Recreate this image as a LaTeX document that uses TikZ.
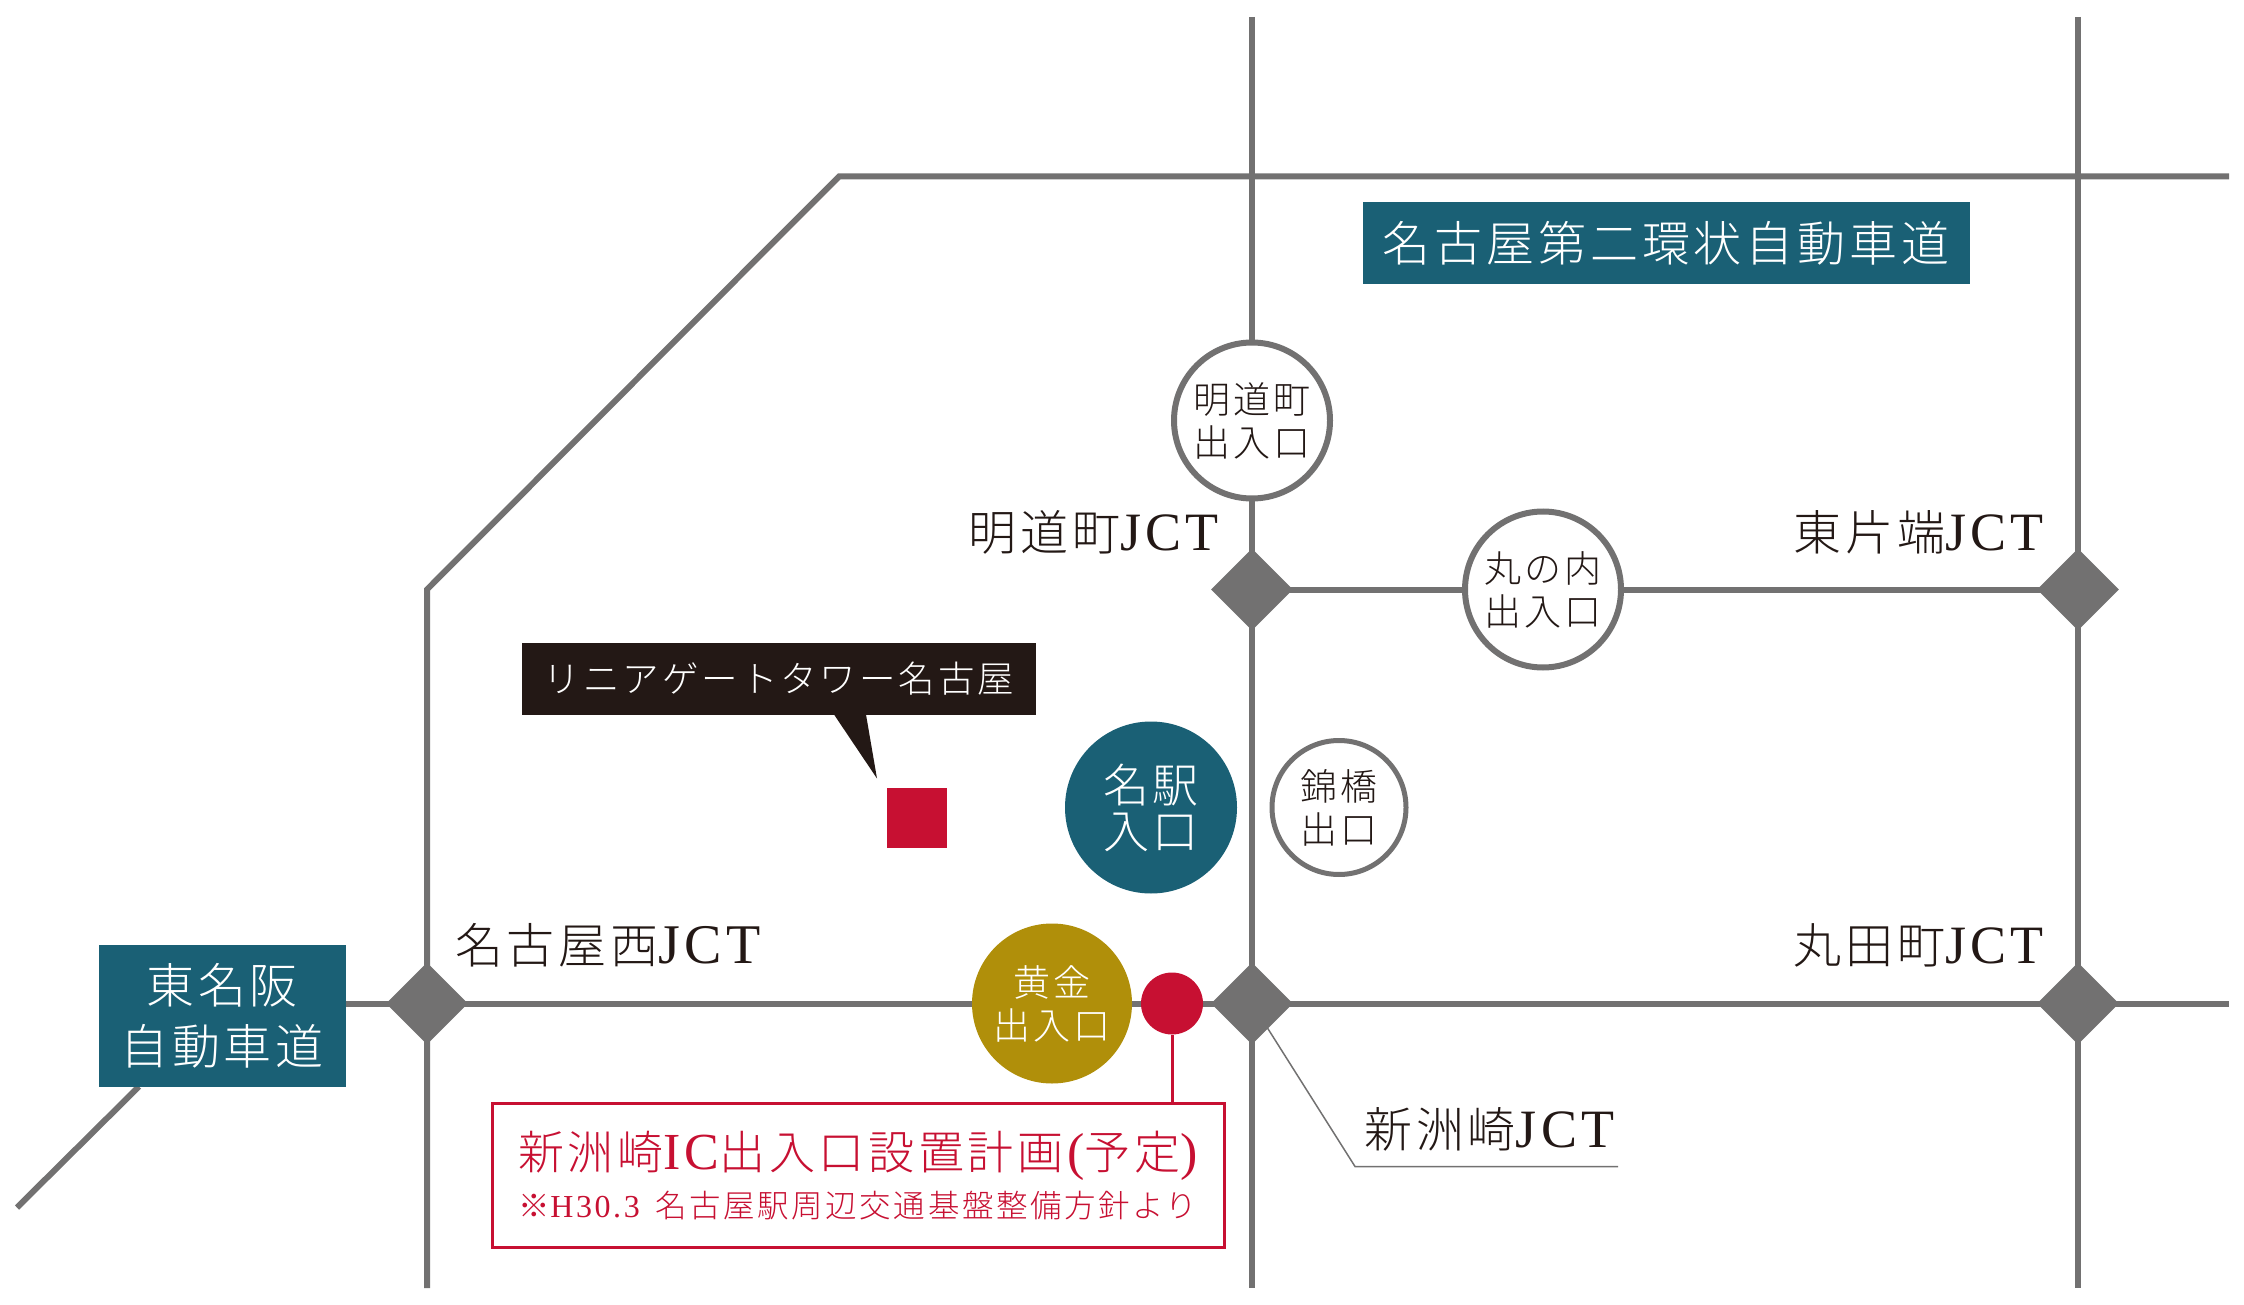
\documentclass[tikz,border=0pt]{standalone}
\usepackage{fontspec}
\setmainfont{Liberation Serif}
\newfontfamily\jpfont[LetterSpace=8]{Noto Sans CJK JP Light}
\newfontfamily\latfont[LetterSpace=8]{Liberation Serif}
\usetikzlibrary{shapes.geometric,backgrounds}

\definecolor{roadgray}{HTML}{727171}
\definecolor{darkteal}{HTML}{1A6075}
\definecolor{signred}{HTML}{C71032}
\definecolor{signgold}{HTML}{B08F0A}
\definecolor{inkblack}{HTML}{231815}

\newcommand{\jpsize}[1]{\jpfont\fontsize{#1}{#1}\selectfont}
\newcommand{\lat}[2]{{\latfont\fontsize{#1}{#1}\selectfont #2}}

\tikzset{
	jctmark/.style={diamond,fill=roadgray,minimum size=82pt,inner sep=0pt},
	road/.style={draw=roadgray,line width=6pt},
	gate/.style={circle,draw=roadgray,fill=white,line width=6pt,inner sep=0pt,minimum size=156pt,text=inkblack,align=center,font=\jpsize{37}},
	roadsign/.style={rectangle,fill=darkteal,text=white,inner sep=0pt,align=center,font=\jpsize{48}},
	jctname/.style={inner sep=0pt,text=inkblack,font=\jpsize{48}},
}

\begin{document}
\begin{tikzpicture}[x=1pt,y=-1pt]
	    
	    \useasboundingbox (0,0) rectangle (2244,1305);
	    
	    \node [jctmark] (meidoJ) at (1252,589.5) {};
	    \node [jctmark] (katahaJ) at (2078,589.5) {};
	    \node [jctmark] (nishiJ) at (427,1003.5) {};
	    \node [jctmark] (shinsuJ) at (1252,1003.5) {};
	    \node [jctmark] (marutaJ) at (2078,1003.5) {};
	    
	    \node [gate] (meidoGate) at (1252,420.5) {明道町\\[6pt]出入口};
	    \node [gate] (marunouchiGate) at (1543,589.5) {丸の内\\[6pt]出入口};
	    \node [gate,minimum size=134pt,line width=5pt] (nishikiGate) at (1339,807.5) {錦橋\\[6pt]出口};
	    \node [gate,draw=none,fill=darkteal,text=white,minimum size=172pt,font=\jpsize{46}] (meiekiGate) at (1151,807.5) {名駅\\[0pt]入口};
	    \node [gate,draw=none,fill=signgold,text=white,minimum size=160pt] (ogonGate) at (1052,1003.5) {黄金\\[6pt]出入口};
	    \node [circle,fill=signred,minimum size=62pt,inner sep=0pt] (shinsuDot) at (1172,1003.5) {};
	    
	    \node [roadsign,minimum width=247pt,minimum height=142pt] (tomeiSign) at (222,1015.5) {東名阪\\[13pt]自動車道};
	    \node [roadsign,minimum width=607pt,minimum height=82pt] (dainiSign) at (1666,243.5) {名古屋第二環状自動車道};
	    
	    \node [jctname,anchor=east] (meidoName) at (1219,532.5) {明道町\lat{54}{JCT}};
	    \node [jctname,anchor=east] (katahaName) at (2044,532.5) {東片端\lat{54}{JCT}};
	    \node [jctname,anchor=west] (nishiName) at (455,945.5) {名古屋西\lat{56}{JCT}};
	    \node [jctname,anchor=east] (marutaName) at (2044,945.5) {丸田町\lat{54}{JCT}};
	    \node [jctname,anchor=west] (shinsuName) at (1364,1129.5) {新洲崎\lat{54}{JCT}};
	    
	    \node [rectangle,fill=inkblack,text=white,inner sep=0pt,minimum width=514pt,minimum height=72pt,font=\jpsize{36.5}] (towerSign) at (779,678.5) {リニアゲートタワー名古屋};
	    \node [rectangle,fill=signred,minimum size=60pt,inner sep=0pt] (towerMark) at (917,817.5) {};
	    
	    \node [rectangle,draw=signred,line width=3pt,text=signred,inner sep=0pt,minimum width=732pt,minimum height=144pt,align=center] (planBox) at (858,1175.5) {{\jpsize{46}新洲崎\lat{52}{IC}出入口設置計画\hspace{4pt}\lat{52}{(}予定\lat{52}{)}}\\[10pt]{\jpsize{31.5}※\lat{32}{H30.3}\hspace{16pt}名古屋駅周辺交通基盤整備方針より}};
	    
	    \coordinate (topMid) at (1252,17);
	    \coordinate (botMid) at (1252,1288);
	    \coordinate (topRight) at (2078,17);
	    \coordinate (botRight) at (2078,1288);
	    \coordinate (botLeft) at (427,1288);
	    \coordinate (ringEnd) at (2229,176.5);
	    \coordinate (ringCorner) at (839,176.5);
	    \coordinate (ringSide) at (427,589.5);
	    \coordinate (westEnd) at (2229,1003.5);
	    \coordinate (tomeiFoot) at (139,1086.5);
	    \coordinate (tomeiEnd) at (17,1207.5);
	    \coordinate (shinsuBend) at (1355,1166.5);
	    \coordinate (shinsuEnd) at (1618,1166.5);
	    \coordinate (towerTip) at (877,778.5);
	    \coordinate (towerLeft) at (834,714.5);
	    \coordinate (towerRight) at (866,714.5);
	    
	    \fill [inkblack] (towerLeft) -- (towerTip) -- (towerRight) -- cycle;
	    
	    \begin{scope}[on background layer]
	    \draw [road] (topMid) -- (meidoJ.center) -- (shinsuJ.center) -- (botMid);
	    \draw [road] (topRight) -- (katahaJ.center) -- (marutaJ.center) -- (botRight);
	    \draw [road] (ringEnd) -- (ringCorner) -- (ringSide) -- (nishiJ.center) -- (botLeft);
	    \draw [road] (meidoJ.center) -- (katahaJ.center);
	    \draw [road] (tomeiSign.east |- nishiJ.center) -- (nishiJ.center) -- (shinsuJ.center) -- (marutaJ.center) -- (westEnd);
	    \draw [road] (tomeiFoot) -- (tomeiEnd);
	    \draw [signred,line width=3pt] (shinsuDot) -- (shinsuDot |- planBox.north);
	    \draw [roadgray,line width=1.5pt] (shinsuJ.center) -- (shinsuBend) -- (shinsuEnd);
	    \end{scope}
	    
	    \end{tikzpicture}
\end{document}
